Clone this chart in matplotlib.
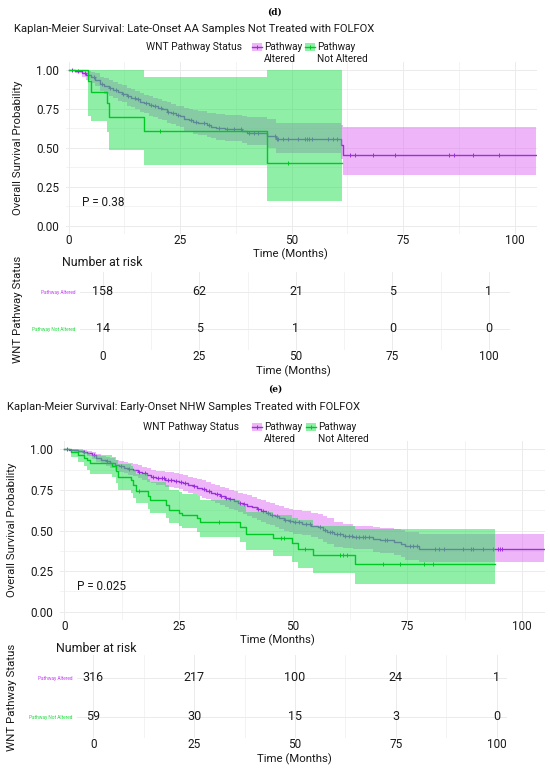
import numpy as np
import matplotlib
matplotlib.use("Agg")
import matplotlib.pyplot as plt
from matplotlib.patches import Rectangle
from matplotlib.lines import Line2D

W, H = 550, 773
FONT = ['Roboto', 'DejaVu Sans']
plt.rcParams['font.family'] = FONT

# ---------------- data: panel (d) ----------------
d_title = "Kaplan-Meier Survival: Late-Onset AA Samples Not Treated with FOLFOX"
d_alt_t = [0, 1.5, 3, 4, 5, 6, 7, 8, 9, 10, 11, 12, 13, 14, 15, 16, 17, 18, 19, 20,
           21, 22, 23, 24, 25, 26, 27, 28, 29, 31, 32, 33, 35, 39, 40, 44.5, 46.5, 61, 61.5]
d_alt_s = [1, .99, .98, .965, .95, .935, .91, .895, .88, .87, .855, .845, .83, .82, .81, .795, .785, .775, .765, .755,
           .745, .73, .72, .71, .70, .685, .675, .665, .655, .645, .635, .625, .618, .605, .595, .578, .555, .52, .454]
d_alt_lo = [1, .975, .955, .935, .915, .895, .865, .845, .83, .815, .80, .79, .77, .76, .75, .73, .72, .705, .695, .685,
            .675, .66, .65, .64, .63, .61, .60, .59, .58, .57, .56, .55, .545, .53, .515, .50, .465, .43, .326]
d_alt_hi = [1, 1, 1, .99, .985, .975, .955, .945, .93, .92, .91, .90, .885, .875, .865, .85, .84, .83, .82, .81,
            .80, .79, .78, .77, .765, .755, .75, .742, .735, .725, .72, .715, .71, .70, .695, .685, .655, .645, .634]
d_alt_end = 104.8
d_alt_cens = [0.8, 2.2, 3.6, 5.8, 7.5, 9.4, 10.6, 12.3, 13.4, 14.8, 15.6, 17.4, 18.6, 19.5, 20.8, 22.4, 23.5,
              24.6, 27.5, 28.6, 30.3, 31.5, 33.8, 35.5, 37.2, 38.6, 40.5, 41.7, 42.5, 46.3, 46.7, 47.0, 48.1,
              49.2, 51.5, 53.0, 53.5, 53.9, 54.6, 58.2, 59.3, 60.2, 63.1, 64.2, 68.3, 73.2, 85.3, 86.4, 90.6, 96.6]

d_not_t = [0, 4.45, 4.97, 8.7, 9.15, 17.0, 44.4]
d_not_s = [1, .929, .857, .786, .698, .607, .405]
d_not_lo = [1, .70, .673, .60, .486, .39, .162]
d_not_hi = [1, 1, 1, 1, 1, .95, 1]
d_not_end = 61.3
d_not_cens = [20.5, 49.2]
d_pval = "P = 0.38"
d_risk_alt = [158, 62, 21, 5, 1]
d_risk_not = [14, 5, 1, 0, 0]

# ---------------- data: panel (e) ----------------
e_title = "Kaplan-Meier Survival: Early-Onset NHW Samples Treated with FOLFOX"
e_alt_t = [0, 1, 2, 3, 4, 5, 6, 7, 8, 9, 10, 11, 12, 13, 14, 15, 16, 17, 18, 19, 20, 22, 24, 25, 26, 27,
           28, 29, 30, 31, 32, 33, 34, 35, 36, 37, 38, 39, 40, 41, 42, 43, 44, 45, 46, 47, 48, 49, 50,
           52, 54, 55.5, 56.5, 57.5, 59, 61, 63, 67.5, 69, 72, 73.5, 74.5, 77.5]
e_alt_s = [1, .997, .994, .990, .985, .975, .962, .948, .934, .925, .915, .905, .895, .888, .880, .873, .862,
           .852, .840, .832, .822, .812, .806, .800, .790, .780, .772, .763, .754, .745, .733, .722, .712,
           .703, .692, .682, .672, .662, .652, .642, .630, .618, .608, .598, .588, .577, .566, .558, .552,
           .542, .530, .520, .505, .493, .478, .468, .462, .450, .441, .431, .418, .405, .384]
e_alt_lo = [1, .991, .985, .979, .971, .957, .941, .924, .907, .896, .884, .872, .861, .853, .844, .836, .823,
            .812, .799, .790, .779, .768, .761, .754, .743, .732, .723, .713, .703, .693, .680, .668, .657,
            .647, .635, .624, .613, .602, .591, .580, .567, .554, .543, .532, .521, .509, .497, .488, .481,
            .470, .457, .446, .430, .417, .401, .390, .383, .370, .360, .349, .335, .321, .308]
e_alt_hi = [1, 1, 1, 1, .996, .990, .981, .971, .961, .954, .945, .937, .929, .923, .916, .910, .901,
            .892, .882, .875, .866, .858, .853, .848, .840, .831, .824, .816, .808, .800, .789, .779, .770,
            .762, .752, .743, .734, .725, .716, .707, .697, .686, .677, .668, .659, .650, .640, .633, .628,
            .619, .609, .600, .587, .577, .555, .540, .530, .522, .515, .508, .500, .492, .478]
e_alt_end = 104.8
e_alt_cens = [0.5, 4.3, 6.5, 9.2, 12.4, 14.2, 16.3, 17.6, 19.4, 20.5, 21.3, 21.8, 22.6, 23.3, 24.3, 25.4,
              26.3, 28.4, 30.6, 31.6, 33.4, 34.3, 35.4, 36.3, 38.4, 39.3, 42.3, 43.4, 44.6, 45.4, 46.4, 48.3,
              49.4, 50.5, 51.3, 52.8, 53.6, 55.8, 57.0, 58.0, 58.5, 59.6, 60.3, 61.4, 62.2, 62.8, 63.8, 64.5,
              65.3, 65.8, 66.6, 70.0, 70.6, 75.6, 76.3, 77.0, 81.0, 81.8, 83.0, 87.2, 88.8, 89.4, 91.5, 93.7,
              94.8, 95.2, 95.7]

e_not_t = [0, 1.5, 3.0, 4.2, 5.0, 5.6, 10.3, 11.2, 11.8, 14.5, 15.0, 15.6, 18.3, 18.8, 22.3, 22.9, 25.0,
           25.6, 28.9, 29.6, 38.3, 39.8, 45.7, 49.7, 51.0, 54.4, 63.5]
e_not_s = [1, .983, .966, .949, .932, .915, .898, .864, .830, .812, .778, .744, .710, .688, .660, .627, .608,
           .596, .578, .552, .520, .476, .452, .420, .386, .350, .292]
e_not_lo = [1, .95, .92, .895, .87, .85, .831, .79, .75, .73, .70, .67, .63, .61, .575, .545, .525,
            .514, .49, .46, .43, .38, .34, .308, .271, .236, .17]
e_not_hi = [1, 1, .995, .985, .975, .965, .955, .935, .91, .895, .87, .845, .815, .80, .78, .75, .735,
            .725, .71, .685, .655, .616, .595, .58, .565, .528, .507]
e_not_end = 94.2
e_not_cens = [16.4, 33.7, 47.3, 48.0, 52.6, 60.3, 61.0, 61.8, 69.6, 73.3, 78.7, 80.6]
e_pval = "P = 0.025"
e_risk_alt = [316, 217, 100, 24, 1]
e_risk_not = [59, 30, 15, 3, 0]

risk_times = [0, 25, 50, 75, 100]
x_ticks = [0, 25, 50, 75, 100]
y_ticks = [0.0, 0.25, 0.5, 0.75, 1.0]
y_ticklabels = ["0.00", "0.25", "0.50", "0.75", "1.00"]
groups = ["Pathway Altered", "Pathway Not Altered"]
legend_title = "WNT Pathway Status"
legend_labels = ["Pathway\nAltered", "Pathway\nNot Altered"]

# ---------------- style ----------------
PURPLE = "#9B2FDD"
PURPLE_BAND = (222/255, 110/255, 242/255)
GREEN = "#00C925"
GREEN_BAND = (33/255, 225/255, 81/255)
BAND_ALPHA = 0.5
GRID = "#EBEBEB"
TXT = "#1a1a1a"

fig = plt.figure(figsize=(W/100, H/100), dpi=100)


def fx(px):
    return px / W


def fy(py):
    return 1 - py / H


def add_ax(left, top, right, bottom):
    return fig.add_axes([fx(left), fy(bottom), (right-left)/W, (bottom-top)/H])


def style_grid(ax):
    for sp in ax.spines.values():
        sp.set_visible(False)
    ax.set_axisbelow(True)
    ax.grid(which='major', color=GRID, lw=0.7)
    ax.grid(which='minor', color=GRID, lw=0.4)
    ax.tick_params(which='both', length=0, labelsize=8.5, colors=TXT)


def curve(ax, t, s, lo, hi, tend, cens, col, band, z):
    tt = np.r_[t, tend]
    ss = np.r_[s, s[-1]]
    ll = np.r_[lo, lo[-1]]
    hh = np.r_[hi, hi[-1]]
    ax.fill_between(tt, ll, hh, step='post', color=band, alpha=BAND_ALPHA, lw=0, zorder=z)
    ax.step(tt, ss, where='post', color=col, lw=1.0, zorder=z+0.1)
    idx = np.searchsorted(np.asarray(t), np.asarray(cens), side='right') - 1
    ax.plot(cens, np.asarray(s)[idx], ls='none', marker='+', ms=3.3, mew=0.7, color=col, zorder=z+0.2)


def km_panel(box, xl, alt, nott, pval, ppos):
    ax = add_ax(*box)
    ax.set_xlim(*xl)
    ax.set_ylim(-0.05, 1.05)
    ax.set_xticks(x_ticks)
    ax.set_xticks([12.5, 37.5, 62.5, 87.5], minor=True)
    ax.set_yticks(y_ticks, y_ticklabels)
    ax.set_yticks([0.125, 0.375, 0.625, 0.875], minor=True)
    style_grid(ax)
    ax.tick_params(axis='x', pad=0)
    ax.tick_params(axis='y', pad=5)
    curve(ax, *alt, PURPLE, PURPLE_BAND, 2)
    curve(ax, *nott, GREEN, GREEN_BAND, 3)
    ax.text(ppos[0], ppos[1], pval, fontsize=8.5, color=TXT, va='center', ha='left')
    return ax


def risk_panel(box, xl, yl, ralt, rnot):
    ax = add_ax(*box)
    ax.set_xlim(*xl)
    ax.set_ylim(*yl)
    ax.set_xticks(x_ticks)
    ax.set_xticks([12.5, 37.5, 62.5, 87.5], minor=True)
    ax.set_yticks([1, 0], groups)
    style_grid(ax)
    ax.tick_params(axis='x', pad=0)
    ax.tick_params(axis='y', labelsize=3.4, pad=3)
    labs = ax.get_yticklabels()
    labs[0].set_color("#C040F0")
    labs[1].set_color("#20D840")
    for t, v in zip(risk_times, ralt):
        ax.text(t, 1, str(v), ha='center', va='center', fontsize=9, color=TXT)
    for t, v in zip(risk_times, rnot):
        ax.text(t, 0, str(v), ha='center', va='center', fontsize=9, color=TXT)
    return ax


def legend(x_title, y, kx1, kx2):
    fig.text(fx(x_title), fy(y), legend_title, fontsize=7.4, color=TXT, va='center', ha='left')
    for kx, col, band, lab in [(kx1, PURPLE, PURPLE_BAND, legend_labels[0]),
                               (kx2, GREEN, GREEN_BAND, legend_labels[1])]:
        fig.patches.append(Rectangle((fx(kx), fy(y+4)), 10/W, 8/H, transform=fig.transFigure,
                                     facecolor=band, alpha=BAND_ALPHA, lw=0))
        fig.lines.append(Line2D([fx(kx), fx(kx+10)], [fy(y), fy(y)], transform=fig.transFigure,
                                color=col, lw=1.0))
        fig.lines.append(Line2D([fx(kx+5)], [fy(y)], transform=fig.transFigure, color=col,
                                marker='+', ms=3.5, mew=0.7))
        fig.text(fx(kx+12), fy(y-5), lab, fontsize=7.2, color=TXT, va='top', ha='left', linespacing=1.25)


# ---------------- panel (d) ----------------
fig.text(fx(275), fy(12), "(d)", fontsize=6.5, fontweight='bold', family='DejaVu Serif', ha='center', va='center')
fig.text(fx(14), fy(29), d_title, fontsize=8.1, color=TXT, ha='left', va='center')
legend(146, 47, 252, 305)
km_panel((66.3, 61.7, 536.8, 233.8), (-0.5, 105),
         (d_alt_t, d_alt_s, d_alt_lo, d_alt_hi, d_alt_end, d_alt_cens),
         (d_not_t, d_not_s, d_not_lo, d_not_hi, d_not_end, d_not_cens), d_pval, (3.0, 0.153))
fig.text(fx(290), fy(254), "Time (Months)", fontsize=8.2, color=TXT, ha='center', va='center')
fig.text(fx(18), fy(148), "Overall Survival Probability", fontsize=8.2, color=TXT, rotation=90, ha='center', va='center')
fig.text(fx(62), fy(262), "Number at risk", fontsize=8.8, color=TXT, ha='left', va='center')
risk_panel((79.8, 272, 509.8, 350), (-6, 105.4), (-0.57, 1.54), d_risk_alt, d_risk_not)
fig.text(fx(293), fy(371), "Time (Months)", fontsize=8.2, color=TXT, ha='center', va='center')
fig.text(fx(18), fy(309), "WNT Pathway Status", fontsize=8.2, color=TXT, rotation=90, ha='center', va='center')

# ---------------- panel (e) ----------------
fig.text(fx(275), fy(389), "(e)", fontsize=6.5, fontweight='bold', family='DejaVu Serif', ha='center', va='center')
fig.text(fx(7), fy(407), e_title, fontsize=8.1, color=TXT, ha='left', va='center')
legend(143, 427, 252, 306)
km_panel((59.9, 441.2, 544.6, 619.8), (-1, 105),
         (e_alt_t, e_alt_s, e_alt_lo, e_alt_hi, e_alt_end, e_alt_cens),
         (e_not_t, e_not_s, e_not_lo, e_not_hi, e_not_end, e_not_cens), e_pval, (2.67, 0.154))
fig.text(fx(277), fy(640), "Time (Months)", fontsize=8.2, color=TXT, ha='center', va='center')
fig.text(fx(12), fy(530), "Overall Survival Probability", fontsize=8.2, color=TXT, rotation=90, ha='center', va='center')
fig.text(fx(56), fy(648), "Number at risk", fontsize=8.8, color=TXT, ha='left', va='center')
risk_panel((77, 655, 507, 738), (-4.04, 102.6), (-0.55, 1.594), e_risk_alt, e_risk_not)
fig.text(fx(294), fy(759), "Time (Months)", fontsize=8.2, color=TXT, ha='center', va='center')
fig.text(fx(12), fy(697), "WNT Pathway Status", fontsize=8.2, color=TXT, rotation=90, ha='center', va='center')

fig.savefig("out.png", dpi=100)
